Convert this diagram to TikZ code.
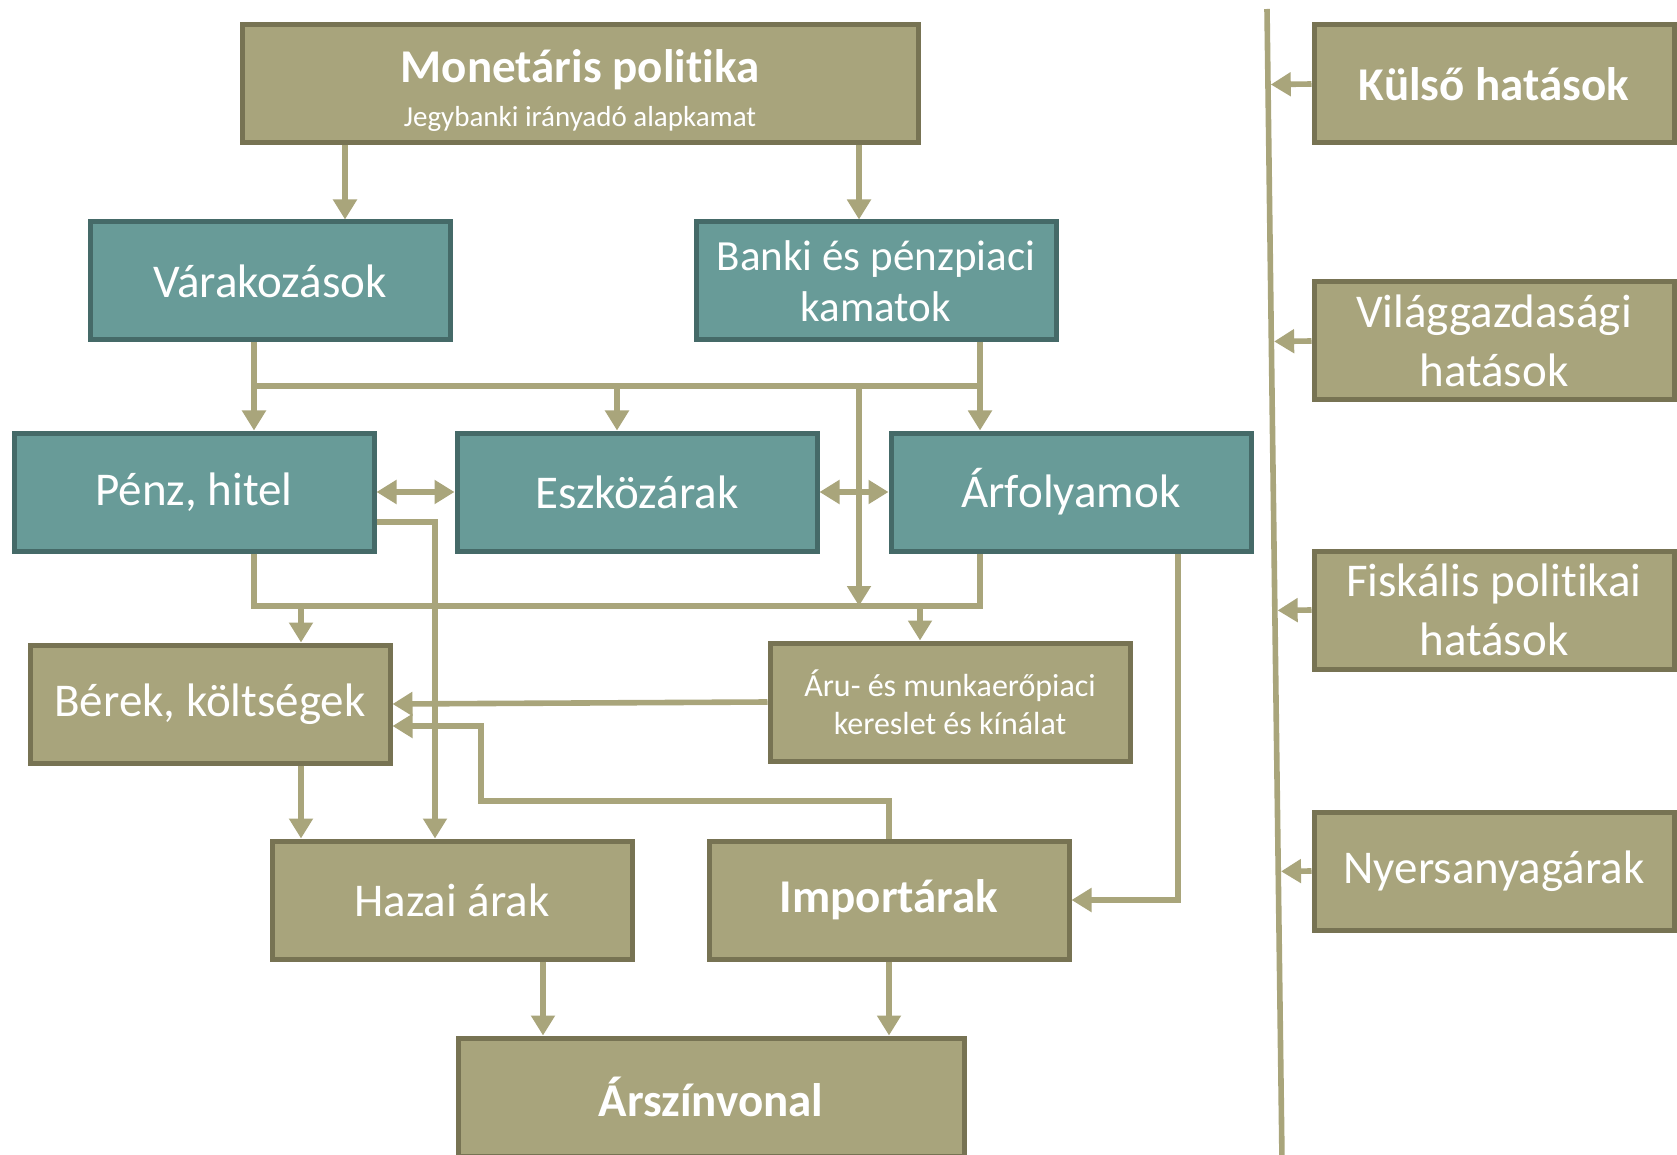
\documentclass[tikz,border=0pt]{standalone}
\usepackage{fontspec}
\setmainfont[Ligatures=NoCommon]{Carlito}
\usepackage{tikz}
\usetikzlibrary{arrows.meta,calc}
\usepackage{xcolor}
\definecolor{boxolive}{HTML}{A8A47C}
\definecolor{oliveedge}{HTML}{777353}
\definecolor{boxteal}{HTML}{689B98}
\definecolor{tealedge}{HTML}{456A68}
\definecolor{linkcol}{HTML}{A9A57B}
\pgfdeclareradialshading{vignette}{\pgfpoint{0bp}{0bp}}{color(0bp)=(white); color(12bp)=(white); color(25bp)=(black!16); color(50bp)=(black!16)}

\begin{document}
\begin{tikzpicture}[x=0.5pt,y=-0.5pt,>={Triangle[length=10pt,width=11.5pt]},line cap=butt,
  box/.style={line width=2.5pt,text=white,align=center,inner sep=0pt,minimum width=180pt,minimum height=59pt,font=\fontsize{23.5}{25.7}\selectfont},
  obox/.style={box,draw=oliveedge,fill=boxolive},
  tbox/.style={box,draw=tealedge,fill=boxteal},
  link/.style={draw=linkcol,line width=2.8pt}]
\useasboundingbox (0,0) rectangle (1677,1155);
\begin{scope}
\clip (0,0) rectangle (1677,1155);
\fill[white] (0,0) rectangle (1677,1155);
\shade[shading=vignette] (680,120) circle (3000);
\end{scope}

\node[obox,minimum width=338pt] (mon) at (580,84) {\rule{0pt}{23pt}\textbf{Monetáris politika}\\[-3.5pt]{\fontsize{14.5}{16}\selectfont Jegybanki irányadó alapkamat}};
\node[tbox] (var) at (270,281) {Várakozások};
\node[tbox,font=\fontsize{21.5}{25.7}\selectfont] (bank) at (876,281) {Banki és pénzpiaci\\kamatok};
\node[tbox] (penz) at (194,492) {Pénz, hitel};
\node[tbox] (eszk) at (637,492) {Eszközárak};
\node[tbox] (arf) at (1071,492) {Árfolyamok};
\node[obox] (ber) at (210,704) {Bérek, költségek};
\node[obox,font=\fontsize{16}{19}\selectfont] (aru) at (950,702) {Áru- és munkaerőpiaci\\kereslet és kínálat};
\node[obox] (haz) at (452,900) {Hazai árak};
\node[obox,font=\fontsize{23.5}{25.7}\selectfont\bfseries] (imp) at (889,900) {Importárak};
\node[obox,minimum width=253pt,font=\fontsize{23.5}{25.7}\selectfont\bfseries] (arsz) at (711,1097) {Árszínvonal};

\node[obox,font=\fontsize{23.5}{25.7}\selectfont\bfseries] (kul) at (1494,84) {Külső hatások};
\node[obox,font=\fontsize{23.5}{29.5}\selectfont] (vil) at (1494,341) {Világgazdasági\\hatások};
\node[obox,font=\fontsize{23.5}{29.5}\selectfont] (fisk) at (1494,610) {Fiskális politikai\\hatások};
\node[obox] (nyers) at (1494,871) {Nyersanyagárak};

\coordinate (busup) at (0,386);
\coordinate (buslow) at (0,606);
\coordinate (yhit) at (0,522);
\coordinate (yimpa) at (0,801);
\coordinate (yimpb) at (0,726);
\coordinate (cvar) at (345,0);
\coordinate (cbank) at (859,0);
\coordinate (cpenz) at (254,0);
\coordinate (ceszk) at (617,0);
\coordinate (carf) at (980,0);
\coordinate (cber) at (301,0);
\coordinate (caru) at (920,0);
\coordinate (chaz) at (435,0);
\coordinate (cret) at (481,0);
\coordinate (cfx) at (1178,0);
\coordinate (carsz) at (543,0);

\draw[link,->] (mon.south -| cvar) -- (var.north -| cvar);
\draw[link,->] (mon.south -| cbank) -- (bank.north -| cbank);
\draw[link,->] (var.south -| cpenz) -- (penz.north -| cpenz);
\draw[link] (busup -| cpenz) -- (busup -| carf);
\draw[link,->] (busup -| ceszk) -- (eszk.north -| ceszk);
\draw[link,->] (bank.south -| carf) -- (arf.north -| carf);
\draw[link,->] (busup -| cbank) -- (buslow -| cbank);
\draw[link] (penz.south -| cpenz) |- (buslow -| carf) -- (arf.south -| carf);
\draw[link,->] (buslow -| cber) -- (ber.north -| cber);
\draw[link,->] (buslow -| caru) -- (aru.north -| caru);
\draw[link,<->] (penz.east) -- (eszk.west);
\draw[link,<->] (eszk.east) -- (arf.west);
\draw[link,->] (penz.east |- yhit) -| (haz.north -| chaz);
\draw[link,->] (aru.west) -- (ber.east);
\draw[link,->] (imp.north) |- (yimpa -| cret) |- (ber.east |- yimpb);
\draw[link,->] (ber.south -| cber) -- (haz.north -| cber);
\draw[link,->] (arf.south -| cfx) |- (imp.east);
\draw[link,->] (haz.south -| carsz) -- (arsz.north -| carsz);
\draw[link,->] (imp.south) -- (arsz.north -| imp.south);

\coordinate (ltop) at (1267,9);
\coordinate (lbot) at (1282,1160);
\draw[link] (ltop) -- (lbot);
\draw[link,->,shorten >=1.4pt] (kul.west) -- ($(ltop)!(kul.west)!(lbot)$);
\draw[link,->,shorten >=1.4pt] (vil.west) -- ($(ltop)!(vil.west)!(lbot)$);
\draw[link,->,shorten >=1.4pt] (fisk.west) -- ($(ltop)!(fisk.west)!(lbot)$);
\draw[link,->,shorten >=1.4pt] (nyers.west) -- ($(ltop)!(nyers.west)!(lbot)$);
\end{tikzpicture}
\end{document}
